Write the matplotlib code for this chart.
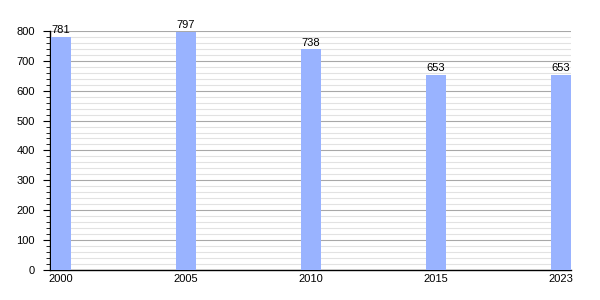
import matplotlib.pyplot as plt
from matplotlib.ticker import MultipleLocator

plt.rcParams['font.family'] = ['Liberation Sans', 'DejaVu Sans']

years = ['2000', '2005', '2010', '2015', '2023']
population = [781, 797, 738, 653, 653]

fig = plt.figure(figsize=(6, 3), dpi=100)
ax = fig.add_axes([0.0833, 0.1, 0.868, 0.797])

x = list(range(len(years)))
ax.bar(x, population, width=0.16, color='#99b3ff', zorder=3)
for xi, v in zip(x, population):
    ax.text(xi, v + 5, str(v), ha='center', va='bottom', fontsize=8, zorder=4)

ax.set_xlim(-0.088, 4.08)
ax.set_ylim(0, 800)
ax.set_xticks(x)
ax.set_xticklabels(years)
ax.yaxis.set_major_locator(MultipleLocator(100))
ax.yaxis.set_minor_locator(MultipleLocator(20))
ax.grid(which='major', axis='y', color='#a8a8a8', linewidth=0.8, zorder=1)
ax.grid(which='minor', axis='y', color='#e2e2e2', linewidth=0.8, zorder=0)

for s in ['top', 'right']:
    ax.spines[s].set_visible(False)
ax.spines['left'].set_linewidth(1)
ax.spines['bottom'].set_linewidth(1)
ax.tick_params(axis='y', which='major', length=5, labelsize=8, pad=6)
ax.tick_params(axis='y', which='minor', length=3)
ax.tick_params(axis='x', length=0, labelsize=8, pad=3)

fig.savefig('out.png', dpi=100)
